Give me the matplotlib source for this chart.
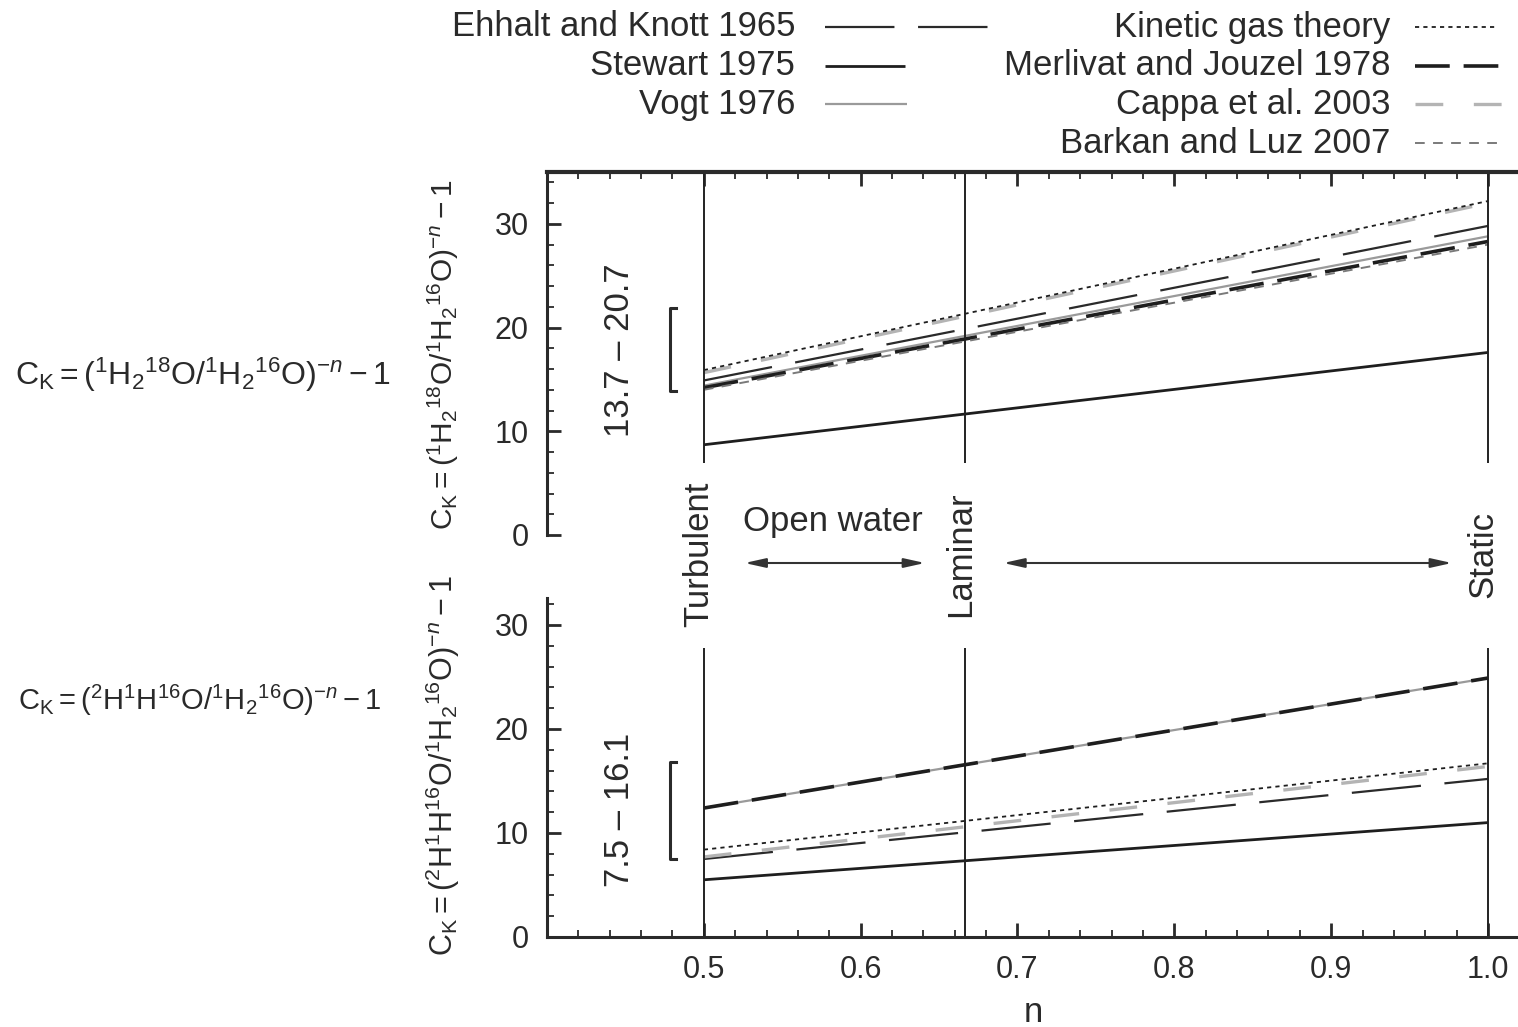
import matplotlib
matplotlib.use("Agg")
import matplotlib.pyplot as plt
from matplotlib.ticker import FixedLocator

plt.rcParams['font.family'] = ['Liberation Sans', 'DejaVu Sans']
plt.rcParams['mathtext.fontset'] = 'custom'
plt.rcParams['mathtext.rm'] = 'Liberation Sans'
plt.rcParams['mathtext.it'] = 'Liberation Sans:italic'
plt.rcParams['lines.scale_dashes'] = False
plt.rcParams['text.color'] = '#2a2a2a'

# n values at the two ends of each line
n_vals = [0.5, 1.0]
regimes = [0.5, 2 / 3, 1.0]
regime_names = ['Turbulent', 'Laminar', 'Static']

# Ck (per mil) for 1H2 18O
ehhalt_18 = [14.9, 29.8]
stewart_18 = [8.7, 17.6]
vogt_18 = [14.4, 28.8]
kinetic_18 = [15.9, 32.2]
merlivat_18 = [14.2, 28.3]
cappa_18 = [15.65, 32.0]
barkan_18 = [14.0, 28.0]

# Ck (per mil) for 2H 1H 16O, lower panel (no Barkan and Luz)
ehhalt_2h = [7.5, 15.2]
stewart_2h = [5.5, 11.0]
vogt_2h = [12.4, 24.9]
kinetic_2h = [8.4, 16.7]
merlivat_2h = [12.4, 24.9]
cappa_2h = [7.7, 16.4]

range_18 = [13.9, 21.9]
range_2h = [7.5, 16.8]

labels = ['Ehhalt and Knott 1965', 'Stewart 1975', 'Vogt 1976',
          'Kinetic gas theory', 'Merlivat and Jouzel 1978',
          'Cappa et al. 2003', 'Barkan and Luz 2007']

styles = {
    'Ehhalt and Knott 1965': dict(color='#2a2a2a', lw=1.6, dashes=(50, 17)),
    'Stewart 1975': dict(color='#1e1e1e', lw=2.0),
    'Vogt 1976': dict(color='#9a9a9a', lw=1.6),
    'Kinetic gas theory': dict(color='#1e1e1e', lw=1.3, dashes=(3, 3)),
    'Merlivat and Jouzel 1978': dict(color='#1e1e1e', lw=2.6, dashes=(25, 10)),
    'Cappa et al. 2003': dict(color='#b4b4b4', lw=2.4, dashes=(20, 22)),
    'Barkan and Luz 2007': dict(color='#7a7a7a', lw=1.4, dashes=(7, 6)),
}

upper = [('Stewart 1975', stewart_18), ('Vogt 1976', vogt_18),
         ('Merlivat and Jouzel 1978', merlivat_18), ('Barkan and Luz 2007', barkan_18),
         ('Ehhalt and Knott 1965', ehhalt_18), ('Cappa et al. 2003', cappa_18),
         ('Kinetic gas theory', kinetic_18)]
lower = [('Stewart 1975', stewart_2h), ('Vogt 1976', vogt_2h),
         ('Merlivat and Jouzel 1978', merlivat_2h), ('Ehhalt and Knott 1965', ehhalt_2h),
         ('Cappa et al. 2003', cappa_2h), ('Kinetic gas theory', kinetic_2h)]

FS = 25
W, H = 1518, 1027
fig = plt.figure(figsize=(W / 100, H / 100), dpi=100)

ax_left = 547 / W
ax_w = (0.62 * 1568.3) / W
ax1 = fig.add_axes([ax_left, (H - 535) / H, ax_w, 363 / H])
ax2 = fig.add_axes([ax_left, (H - 937) / H, ax_w, 364 / H])

spine_c = '#2a2a2a'
for ax in (ax1, ax2):
    ax.set_xlim(0.4, 1.02)
    ax.set_ylim(0, 35)
    ax.patch.set_alpha(0)
    for s in ax.spines.values():
        s.set_linewidth(2.2)
        s.set_color(spine_c)
    ax.spines['right'].set_visible(False)
    ax.set_xticks([0.5, 0.6, 0.7, 0.8, 0.9, 1.0])
    ax.xaxis.set_minor_locator(FixedLocator([0.4 + 0.02 * i for i in range(31)]))
    ax.set_yticks([0, 10, 20, 30])
    ax.tick_params(which='major', direction='in', length=10, width=2, color=spine_c,
                   labelsize=22, pad=13, labelcolor='#2a2a2a')
    ax.tick_params(which='minor', direction='in', length=5, width=1.3, color=spine_c)

ax1.spines['bottom'].set_visible(False)
ax1.spines['top'].set_linewidth(3)
ax1.spines['left'].set_bounds(0, 35)
ax1.yaxis.set_minor_locator(FixedLocator(range(0, 36, 2)))
ax1.tick_params(axis='x', which='both', top=True, bottom=False, labeltop=False, labelbottom=False)

ax2.spines['top'].set_visible(False)
ax2.spines['left'].set_bounds(0, 32.6)
ax2.yaxis.set_minor_locator(FixedLocator(range(0, 33, 2)))
ax2.tick_params(axis='x', which='both', top=False, bottom=True)
ax2.set_xticklabels(['0.5', '0.6', '0.7', '0.8', '0.9', '1.0'])

for ax, series in ((ax1, upper), (ax2, lower)):
    for name, vals in series:
        ax.plot(n_vals, vals, solid_capstyle='butt', dash_capstyle='butt', **styles[name])

# regime markers
ax1.vlines(regimes, 6.9, 35, color='#222222', lw=1.4)
ax2.vlines(regimes, 0, 27.8, color='#222222', lw=1.4)

# measured range brackets
for ax, (lo, hi), txt, ty in ((ax1, range_18, '13.7 – 20.7', 17.8),
                               (ax2, range_2h, '7.5 – 16.1', 12.2)):
    bx = 0.4785
    ax.plot([bx + 0.004, bx, bx, bx + 0.004], [lo, lo, hi, hi], color='#2a2a2a', lw=2.2,
            clip_on=False)
    ax.text(0.4465, ty, txt, rotation=90, ha='center', va='center', fontsize=FS)

for x, name in zip(regimes, regime_names):
    ax1.text(x - 0.003, -1.85, name, rotation=90, ha='center', va='center', fontsize=FS,
             clip_on=False)
ax1.text(0.582, 1.3, 'Open water', ha='center', va='center', fontsize=FS)
arrow = dict(arrowstyle='<|-|>,head_length=0.9,head_width=0.2', color='#333333', lw=1.5,
             mutation_scale=14, shrinkA=0, shrinkB=0)
ax1.annotate('', xy=(0.641, -2.7), xytext=(0.526, -2.7), arrowprops=arrow,
             annotation_clip=False)
ax1.annotate('', xy=(0.977, -2.7), xytext=(0.691, -2.7), arrowprops=arrow,
             annotation_clip=False)

lab18 = r'$\mathrm{C_K = (^1H_2{}^{18}O/^1H_2{}^{16}O)^{-\mathit{n}} - 1}$'
lab2h = r'$\mathrm{C_K = (^2H^1H^{16}O/^1H_2{}^{16}O)^{-\mathit{n}} - 1}$'
fig.text(443 / W, 1 - 355 / H, lab18, rotation=90, ha='center', va='center', fontsize=21.5)
fig.text(443 / W, 1 - 766 / H, lab2h, rotation=90, ha='center', va='center', fontsize=22)
fig.text(15 / W, 1 - 375 / H, lab18, ha='left', va='center', fontsize=23)
fig.text(18 / W, 1 - 700 / H, lab2h, ha='left', va='center', fontsize=21)
fig.text(1033 / W, 1 - 1013 / H, 'n', ha='center', va='center', fontsize=FS)

# key, laid out in figure pixels
kax = fig.add_axes([0, 0, 1, 1])
kax.set_xlim(0, W)
kax.set_ylim(H, 0)
kax.axis('off')
row_y = [27 + 38.7 * i for i in range(4)]
cols = [(labels[:3], 795, 825, [170, 80, 82]), (labels[3:], 1390, 1415, [82, 90, 100, 82])]
for names, tx, sx, lens in cols:
    for i, name in enumerate(names):
        kax.text(tx, row_y[i], name, ha='right', va='center', fontsize=FS)
        kax.plot([sx, sx + lens[i]], [row_y[i], row_y[i]], solid_capstyle='butt',
                 dash_capstyle='butt', **styles[name])

fig.savefig('out.png', dpi=100)
